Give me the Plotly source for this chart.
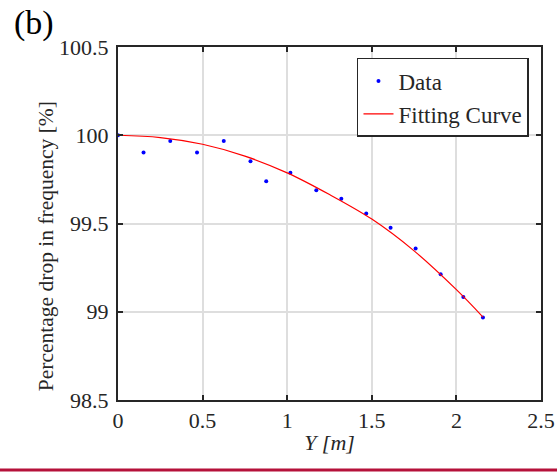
import plotly.graph_objects as go

# Data
data_x = [0.0, 0.151, 0.309, 0.467, 0.625, 0.783, 0.876, 1.019, 1.172, 1.320,
          1.467, 1.611, 1.759, 1.907, 2.041, 2.157]
data_y = [100.0, 99.902, 99.968, 99.902, 99.968, 99.853, 99.740, 99.787, 99.689, 99.640,
          99.557, 99.476, 99.358, 99.213, 99.083, 98.968]

fit_x = [0.0, 0.25, 0.5, 0.75, 1.0, 1.25, 1.5, 1.75, 2.0, 2.157]
fit_y = [100.0, 99.987, 99.949, 99.882, 99.787, 99.664, 99.525, 99.345, 99.125, 98.97]

x_ticks = [0, 0.5, 1, 1.5, 2, 2.5]
x_tick_labels = ["0", "0.5", "1", "1.5", "2", "2.5"]
y_ticks = [98.5, 99, 99.5, 100, 100.5]
y_tick_labels = ["98.5", "99", "99.5", "100", "100.5"]

FONT = '"Liberation Serif", "Times New Roman", serif'
INK = "#262626"

fig = go.Figure()
fig.add_trace(go.Scatter(x=data_x, y=data_y, mode="markers", name="Data",
                         marker=dict(color="#0000ff", size=4), cliponaxis=False))
fig.add_trace(go.Scatter(x=fit_x, y=fit_y, mode="lines", name="Fitting Curve",
                         line=dict(color="#ff0000", width=1.2, shape="spline", smoothing=1.0)))

axis_common = dict(
    showline=True, linecolor=INK, linewidth=2, mirror="ticks",
    ticks="inside", ticklen=5, tickwidth=1.5, tickcolor=INK,
    showgrid=True, gridcolor="#dedede", gridwidth=1.5, zeroline=False,
    tickfont=dict(family=FONT, size=22, color=INK), automargin=False,
)

fig.update_xaxes(range=[0, 2.5], tickvals=x_ticks, ticktext=x_tick_labels,
                 title=dict(text="<i>Y [m]</i>", font=dict(family=FONT, size=22, color=INK),
                            standoff=2),
                 **axis_common)
fig.update_yaxes(range=[98.5, 100.5], tickvals=y_ticks, ticktext=y_tick_labels,
                 ticklabelstandoff=3,
                 **axis_common)

fig.update_layout(
    width=557, height=472, autosize=False,
    margin=dict(l=118, r=16, t=47, b=72, autoexpand=False),
    paper_bgcolor="white", plot_bgcolor="white",
    font=dict(family=FONT, color=INK),
    legend=dict(x=0.9716, y=0.969, xanchor="right", yanchor="top",
                bgcolor="white", bordercolor=INK, borderwidth=1.5,
                font=dict(family=FONT, size=23, color=INK),
                tracegroupgap=0, itemwidth=30),
    showlegend=True,
    annotations=[
        dict(text="(b)", xref="paper", yref="paper", x=-0.25, y=1.127,
             xanchor="left", yanchor="top", showarrow=False,
             font=dict(family=FONT, size=34, color="black")),
        dict(text="Percentage drop in frequency [%]", xref="paper", yref="paper",
             x=-0.17, y=0.436, xanchor="center", yanchor="middle", textangle=-90,
             showarrow=False, font=dict(family=FONT, size=21.5, color=INK)),
    ],
    shapes=[dict(type="line", xref="paper", yref="paper", x0=-0.3, x1=1.05,
                 y0=-0.198, y1=-0.198, line=dict(color="#b5113a", width=3))],
)

fig.write_html("out.html")
